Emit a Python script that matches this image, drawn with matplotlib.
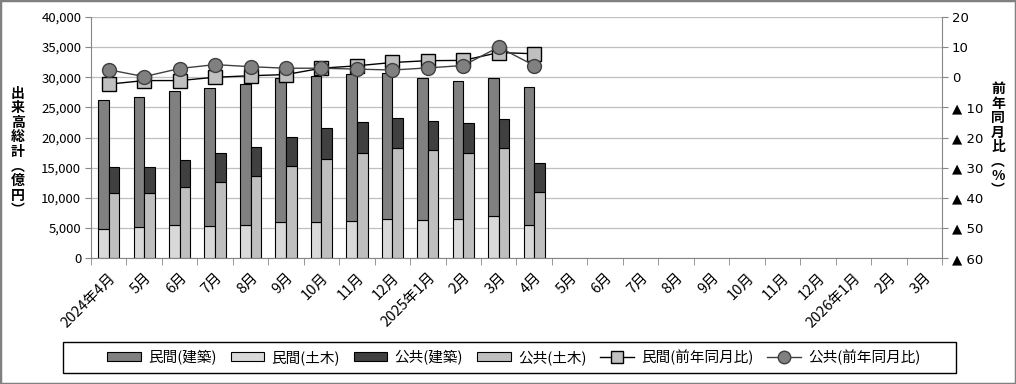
import matplotlib
matplotlib.use("Agg")
import matplotlib.pyplot as plt
import numpy as np
from matplotlib.patches import Patch, Rectangle
from matplotlib.lines import Line2D

plt.rcParams['font.family'] = ['Noto Sans CJK JP', 'DejaVu Sans']

months = ["2024年4月", "5月", "6月", "7月", "8月", "9月", "10月", "11月", "12月",
          "2025年1月", "2月", "3月", "4月", "5月", "6月", "7月", "8月", "9月",
          "10月", "11月", "12月", "2026年1月", "2月", "3月"]

private_civil = [4800, 5100, 5450, 5300, 5450, 5950, 5950, 6100, 6450, 6300, 6450, 6950, 5450]
private_build = [21450, 21600, 22300, 22900, 23400, 23900, 24200, 24400, 24250, 23600, 22950, 22950, 22900]
public_civil = [10750, 10750, 11750, 12550, 13550, 15200, 16350, 17350, 18200, 18000, 17350, 18200, 10900]
public_build = [4300, 4300, 4450, 4800, 4950, 4950, 5150, 5150, 5050, 4800, 5000, 4900, 4800]

private_yoy = [-2.3, -1.1, -1.1, 0.0, 0.5, 0.9, 3.0, 3.8, 4.9, 5.5, 5.6, 8.2, 7.8]
public_yoy = [2.5, 0.2, 2.9, 4.2, 3.5, 3.0, 3.0, 2.7, 2.4, 3.1, 3.9, 10.0, 3.9]

left_ticks = list(range(0, 40001, 5000))
right_ticks = list(range(-60, 21, 10))

c_pb = "#808080"
c_pc = "#d9d9d9"
c_gb = "#404040"
c_gc = "#bfbfbf"
axis_gray = "#868686"

fig = plt.figure(figsize=(10.16, 3.84), dpi=100)
ax = fig.add_axes([91 / 1016, 1 - 258 / 384, (942 - 91) / 1016, (258 - 17) / 384])

n = len(private_civil)
x = np.arange(n)
w = 0.3
off = 0.15
ax.bar(x - off, private_civil, w, color=c_pc, edgecolor="black", linewidth=0.8, zorder=2)
ax.bar(x - off, private_build, w, bottom=private_civil, color=c_pb, edgecolor="black", linewidth=0.8, zorder=2)
ax.bar(x + off, public_civil, w, color=c_gc, edgecolor="black", linewidth=0.8, zorder=2)
ax.bar(x + off, public_build, w, bottom=public_civil, color=c_gb, edgecolor="black", linewidth=0.8, zorder=2)

ax.set_xlim(-0.5, len(months) - 0.5)
ax.set_ylim(0, 40000)
ax.set_yticks(left_ticks)
ax.set_yticklabels([f"{v:,}" for v in left_ticks], fontsize=9.5)
ax.yaxis.grid(True, color="#bfbfbf", linewidth=0.9, zorder=0)
ax.set_axisbelow(True)

ax.set_xticks(np.arange(len(months)))
ax.set_xticklabels(months, rotation=45, ha="right", rotation_mode="anchor", fontsize=10.5)
ax.set_xticks(np.arange(len(months) + 1) - 0.5, minor=True)
ax.tick_params(axis="x", which="major", length=0, pad=9)
ax.tick_params(axis="x", which="minor", length=5, color=axis_gray)
ax.tick_params(axis="y", length=4, color=axis_gray, pad=3)

for s in ["top", "right"]:
    ax.spines[s].set_visible(False)
for s in ["left", "bottom"]:
    ax.spines[s].set_color(axis_gray)

ax2 = ax.twinx()
ax2.set_ylim(-60, 20)
ax2.set_yticks(right_ticks)
ax2.set_yticklabels([(f"▲ {-v}" if v < 0 else f"{v}") for v in right_ticks], fontsize=9.5,
                    family=['DejaVu Sans'])
ax2.tick_params(axis="y", length=4, color=axis_gray, pad=3)
for s in ["top", "left", "bottom"]:
    ax2.spines[s].set_visible(False)
ax2.spines["right"].set_color(axis_gray)

ax2.plot(x, private_yoy, color="black", linewidth=1.0, marker="s", markersize=10,
         markerfacecolor="#c0c0c0", markeredgecolor="black", markeredgewidth=1.0, zorder=3)
ax2.plot(x, public_yoy, color="#404040", linewidth=1.0, marker="o", markersize=10,
         markerfacecolor="#808080", markeredgecolor="#404040", markeredgewidth=1.0, zorder=4)

fig.text(18 / 1016, 1 - 152 / 384, "\n".join("出来高総計︵億円︶"), ha="center", va="center",
         fontsize=10, fontweight="bold", linespacing=1.05)
fig.text(998 / 1016, 1 - 140 / 384, "\n".join("前年同月比︵%︶"), ha="center", va="center",
         fontsize=10, fontweight="bold", linespacing=1.05)

handles = [
    Patch(facecolor=c_pb, edgecolor="black", linewidth=0.8),
    Patch(facecolor=c_pc, edgecolor="black", linewidth=0.8),
    Patch(facecolor=c_gb, edgecolor="black", linewidth=0.8),
    Patch(facecolor=c_gc, edgecolor="black", linewidth=0.8),
    Line2D([], [], color="black", linewidth=1.0, marker="s", markersize=9,
           markerfacecolor="#c0c0c0", markeredgecolor="black"),
    Line2D([], [], color="#404040", linewidth=1.0, marker="o", markersize=9,
           markerfacecolor="#808080", markeredgecolor="#404040"),
]
labels = ["民間(建築)", "民間(土木)", "公共(建築)", "公共(土木)", "民間(前年同月比)", "公共(前年同月比)"]
leg = fig.legend(handles, labels, loc="center", bbox_to_anchor=(514 / 1016, 1 - 357 / 384),
                 ncol=6, frameon=False, fontsize=10.5,
                 handlelength=2.3, handleheight=0.6, columnspacing=0.95, handletextpad=0.5)

fig.patches.append(Rectangle((63 / 1016, 1 - 373 / 384), (956 - 63) / 1016, 31 / 384,
                             transform=fig.transFigure, fill=False, edgecolor="black", linewidth=1.0))
fig.patches.append(Rectangle((0, 0), 1, 1, transform=fig.transFigure, fill=False,
                             edgecolor="#808080", linewidth=2.5))

fig.savefig("out.png", dpi=100)
